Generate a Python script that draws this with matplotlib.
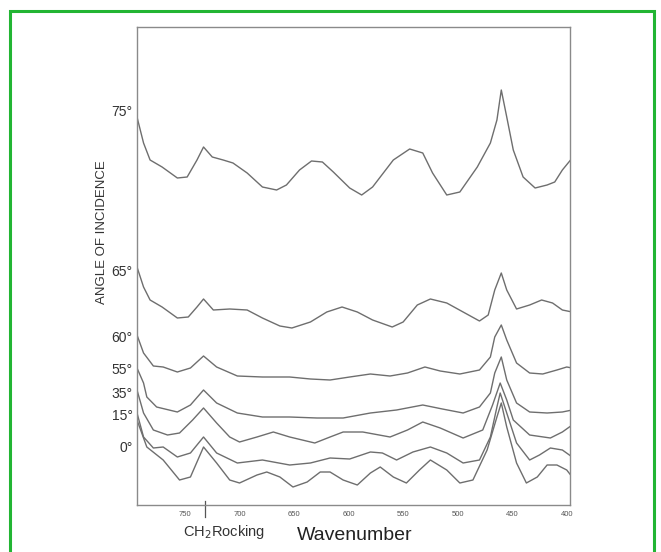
import matplotlib
matplotlib.use("Agg")
import matplotlib.pyplot as plt
from matplotlib.patches import Rectangle

plt.rcParams["font.family"] = ["Liberation Sans", "DejaVu Sans"]

# spectra: wavenumber (cm-1) and height above baseline (arb. units)
w75 = [794, 788, 782, 771, 757, 748, 739, 733, 725, 715, 706, 693, 679, 666, 657, 645, 634, 624, 614, 599,
       588, 578, 559, 544, 532, 523, 510, 498, 482, 470, 464, 460, 455, 449, 440, 429, 418, 411, 404, 395]
a75 = [388, 362, 345, 338, 327, 328, 345, 358, 348, 345, 342, 332, 318, 315, 320, 335, 344, 343, 333, 317,
       310, 318, 345, 356, 352, 332, 310, 313, 338, 362, 385, 415, 388, 355, 328, 317, 320, 323, 335, 347]

w65 = [794, 788, 782, 771, 757, 747, 739, 733, 724, 709, 693, 679, 663, 652, 635, 620, 606, 592, 578, 560,
       550, 537, 525, 510, 495, 480, 472, 466, 460, 455, 446, 434, 423, 413, 404, 395]
a65 = [238, 218, 205, 198, 187, 188, 198, 206, 195, 196, 195, 187, 179, 177, 183, 193, 198, 193, 185, 178,
       183, 200, 206, 202, 193, 184, 190, 215, 232, 215, 196, 200, 205, 202, 195, 193]

w60 = [794, 788, 779, 770, 757, 745, 733, 721, 702, 679, 654, 635, 617, 599, 580, 562, 546, 530, 516, 498,
       480, 470, 466, 460, 455, 446, 434, 422, 409, 400, 395]
a60 = [170, 152, 139, 138, 133, 137, 149, 138, 129, 128, 128, 126, 125, 128, 131, 129, 132, 138, 134, 131,
       135, 148, 168, 180, 165, 142, 132, 131, 135, 138, 137]

w55 = [794, 788, 785, 776, 757, 745, 733, 721, 702, 679, 654, 629, 605, 580, 556, 532, 514, 495, 480, 470,
       466, 460, 455, 446, 434, 418, 404, 395]
a55 = [137, 122, 108, 98, 93, 100, 115, 102, 92, 88, 88, 87, 87, 92, 95, 100, 96, 92, 98, 112,
       132, 148, 125, 102, 93, 92, 93, 95]

w35 = [794, 788, 779, 766, 755, 743, 733, 721, 709, 700, 684, 669, 654, 631, 617, 605, 587, 562, 546, 532,
       516, 495, 477, 468, 461, 455, 449, 434, 415, 404, 395]
a35 = [115, 92, 75, 70, 72, 85, 97, 82, 68, 63, 68, 73, 68, 62, 68, 73, 73, 68, 75, 83,
       77, 67, 75, 100, 122, 105, 85, 70, 67, 73, 80]

w15 = [794, 788, 779, 770, 757, 745, 733, 721, 702, 679, 654, 635, 617, 599, 580, 569, 556, 541, 525, 510,
       495, 480, 470, 464, 461, 455, 446, 434, 425, 415, 404, 395]
a15 = [92, 68, 57, 58, 48, 52, 68, 52, 42, 45, 40, 42, 47, 46, 53, 52, 45, 53, 58, 52,
       42, 45, 68, 98, 112, 92, 62, 45, 50, 57, 55, 48]

w0 = [794, 785, 770, 755, 745, 733, 721, 709, 700, 684, 675, 663, 651, 638, 626, 617, 605, 592, 580, 571,
      559, 547, 535, 525, 510, 498, 486, 473, 464, 460, 455, 446, 437, 427, 418, 409, 400, 395]
a0 = [85, 58, 45, 25, 28, 58, 42, 25, 22, 30, 33, 28, 18, 23, 33, 33, 25, 20, 32, 38,
      28, 22, 35, 45, 35, 22, 25, 55, 88, 102, 78, 42, 22, 28, 40, 40, 35, 28]

angle_labels = ["0°", "15°", "35°", "55°", "60°", "65°", "75°"]
angle_pos = [59, 91, 113, 136, 169, 235, 395]
wn_ticks = [750, 700, 650, 600, 550, 500, 450, 400]

fig = plt.figure(figsize=(6.61, 5.52), dpi=100)
ax = fig.add_axes([137 / 661, 1 - 505 / 552, 433 / 661, 478 / 552])

for w, a in [(w75, a75), (w65, a65), (w60, a60), (w55, a55), (w35, a35), (w15, a15), (w0, a0)]:
    ax.plot(w, a, color="#6e6e6e", lw=1.0, solid_joinstyle="round", solid_capstyle="round")

ax.set_xlim(794, 397)
ax.set_ylim(0, 478)
for s in ax.spines.values():
    s.set_color("#8a8a8a")
    s.set_linewidth(1.0)

ax.set_xticks(wn_ticks)
ax.set_xticklabels([str(t) for t in wn_ticks], fontsize=5.5, color="#555555")
ax.tick_params(axis="x", length=0, pad=4)
ax.set_yticks(angle_pos)
ax.set_yticklabels(angle_labels, fontsize=10, color="#333333")
ax.tick_params(axis="y", length=0, pad=3)

ax.set_ylabel("ANGLE OF INCIDENCE", fontsize=9.5, color="#333333")
ax.yaxis.set_label_coords(-0.066, 0.57)

# CH2 rocking marker below the axis
ax.plot([732, 732], [-12, 4], color="#555555", lw=0.9, clip_on=False)
ax.text(714, -27, "CH$_2$Rocking", fontsize=10.5, color="#333333", ha="center", va="center")
ax.text(594, -30, "Wavenumber", fontsize=14, color="#222222", ha="center", va="center")

# green frame around the figure
fig.patches.append(Rectangle((10 / 661, -0.05), 644 / 661, 1.05 - 11 / 552, transform=fig.transFigure,
                             fill=False, edgecolor="#22b533", lw=2.2))

fig.savefig("out.png", dpi=100)
